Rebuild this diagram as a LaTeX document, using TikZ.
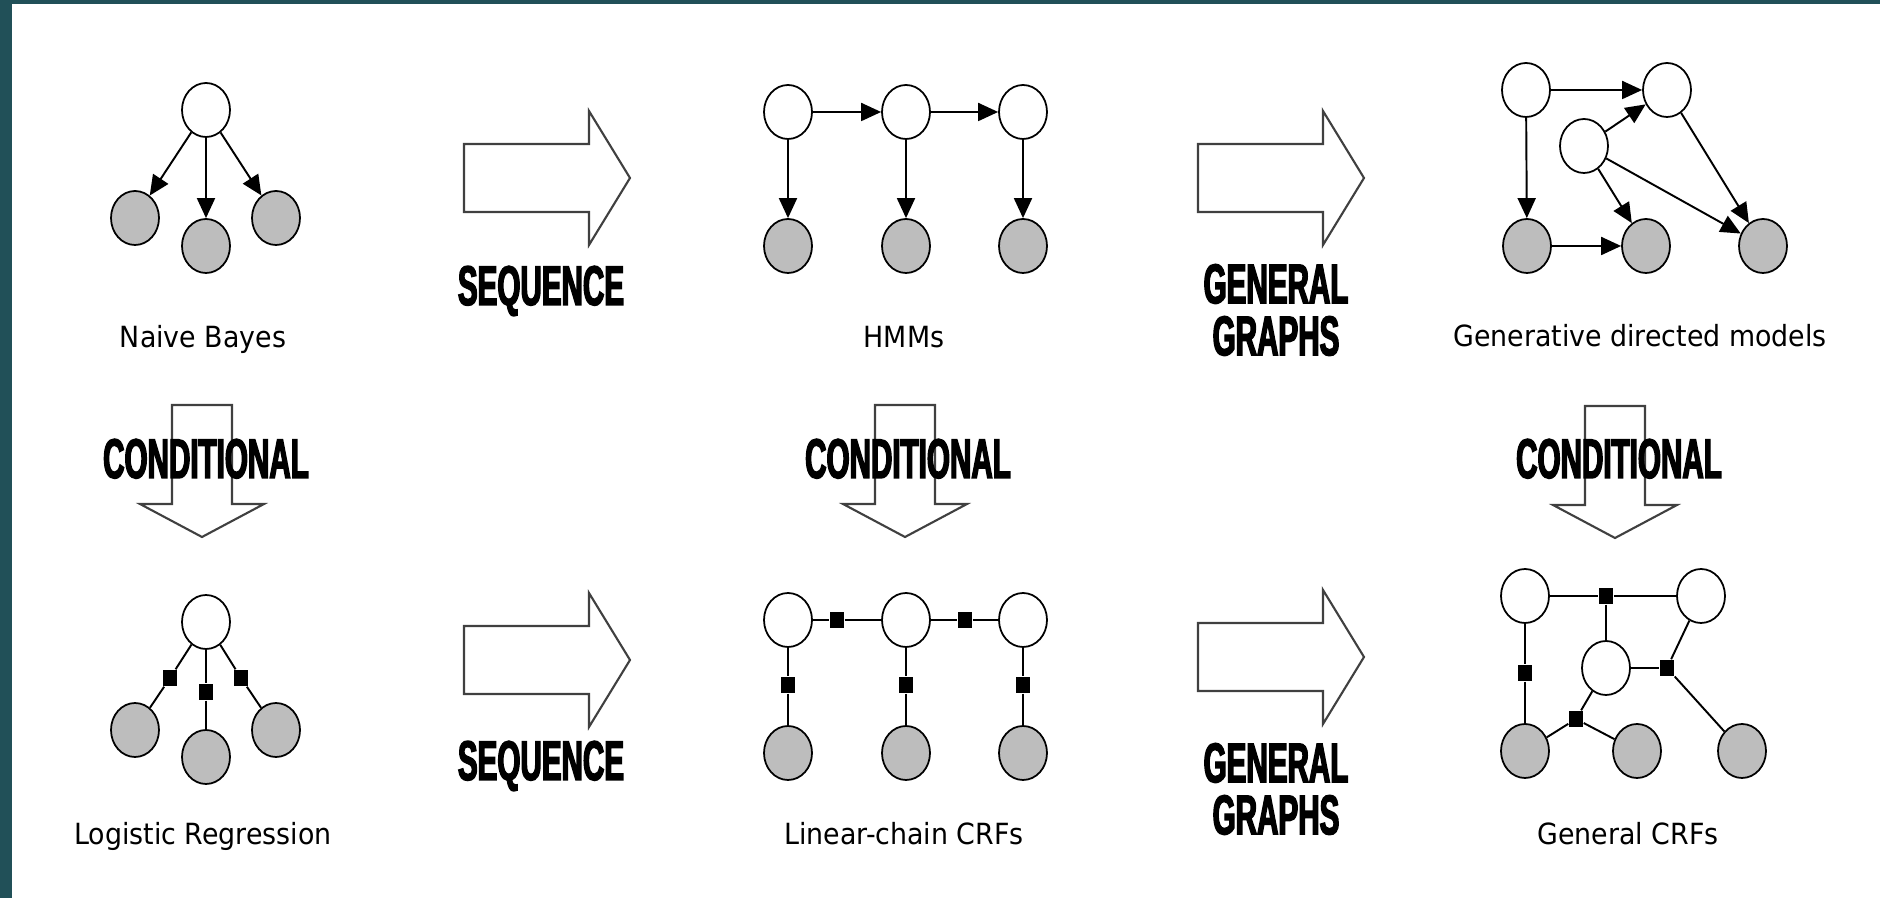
\documentclass[tikz,border=0pt]{standalone}
\usepackage{fontspec}
\usepackage{tikz}
\usetikzlibrary{shapes.geometric,arrows.meta}

\newfontfamily\capfont[FakeStretch=0.92]{DejaVu Sans}
\newfontfamily\bannerfont[FakeStretch=0.53,FakeBold=2.5]{Liberation Sans Bold}

\definecolor{slidebar}{RGB}{33,80,88}
\definecolor{obsgray}{RGB}{189,189,189}

\tikzset{
  hidden/.style={ellipse, draw, line width=0.5pt, fill=white,
    minimum width=4.8mm, minimum height=5.4mm, inner sep=0pt},
  observed/.style={hidden, fill=obsgray},
  factor/.style={rectangle, fill=black, minimum width=1.4mm,
    minimum height=1.6mm, inner sep=0pt},
  dep/.style={line width=0.55pt, -{Triangle[length=2mm,width=1.8mm]}},
  link/.style={line width=0.55pt},
  caption/.style={font=\capfont\fontsize{8.3pt}{10pt}\selectfont, anchor=base},
  banner/.style={font=\bannerfont\fontsize{15.9pt}{14.8pt}\selectfont,
    align=center, inner sep=0pt},
  blockarrow/.style={draw=black!75, line width=0.6pt, line join=miter},
  pics/fatright/.style={code={
    \draw[blockarrow] (0,-34) -- (125,-34) -- (125,-67) -- (166,0)
      -- (125,67) -- (125,34) -- (0,34) -- cycle;
  }},
  pics/fatdown/.style={code={
    \draw[blockarrow] (-30,0) -- (30,0) -- (30,99) -- (62,99) -- (0,132)
      -- (-62,99) -- (-30,99) -- cycle;
  }},
}

\begin{document}
\begin{tikzpicture}[x=0.1mm, y=-0.1mm]
  \useasboundingbox (0,0) rectangle (1880,898);
  \fill[slidebar] (0,0) rectangle (12,898);
  \fill[slidebar] (0,0) rectangle (1880,4);

  % naive bayes
  \node[hidden] (nby) at (206,110) {};
  \node[observed] (nbx1) at (135,218) {};
  \node[observed] (nbx2) at (206,246) {};
  \node[observed] (nbx3) at (276,218) {};
  \draw[dep] (nby) -- (nbx1);
  \draw[dep] (nby) -- (nbx2);
  \draw[dep] (nby) -- (nbx3);
  \node[caption] (nblabel) at (203,348) {Naive Bayes};

  % logistic regression
  \node[hidden] (lry) at (206,622) {};
  \node[observed] (lrx1) at (135,730) {};
  \node[observed] (lrx2) at (206,757) {};
  \node[observed] (lrx3) at (276,730) {};
  \node[factor] (lrf1) at (170,678) {};
  \node[factor] (lrf2) at (206,692) {};
  \node[factor] (lrf3) at (241,678) {};
  \draw[link] (lry) -- (lrf1) -- (lrx1);
  \draw[link] (lry) -- (lrf2) -- (lrx2);
  \draw[link] (lry) -- (lrf3) -- (lrx3);
  \node[caption] (lrlabel) at (203,845) {Logistic Regression};

  % hmm
  \node[hidden] (hy1) at (788,112) {};
  \node[hidden] (hy2) at (906,112) {};
  \node[hidden] (hy3) at (1023,112) {};
  \node[observed] (hx1) at (788,246) {};
  \node[observed] (hx2) at (906,246) {};
  \node[observed] (hx3) at (1023,246) {};
  \draw[dep] (hy1) -- (hy2);
  \draw[dep] (hy2) -- (hy3);
  \draw[dep] (hy1) -- (hx1);
  \draw[dep] (hy2) -- (hx2);
  \draw[dep] (hy3) -- (hx3);
  \node[caption] (hmmlabel) at (904,348) {HMMs};

  % linear-chain crf
  \node[hidden] (ly1) at (788,620) {};
  \node[hidden] (ly2) at (906,620) {};
  \node[hidden] (ly3) at (1023,620) {};
  \node[observed] (lx1) at (788,753) {};
  \node[observed] (lx2) at (906,753) {};
  \node[observed] (lx3) at (1023,753) {};
  \node[factor] (lf12) at (837,620) {};
  \node[factor] (lf23) at (965,620) {};
  \node[factor] (lf1) at (788,685) {};
  \node[factor] (lf2) at (906,685) {};
  \node[factor] (lf3) at (1023,685) {};
  \draw[link] (ly1) -- (lf12) -- (ly2) -- (lf23) -- (ly3);
  \draw[link] (ly1) -- (lf1) -- (lx1);
  \draw[link] (ly2) -- (lf2) -- (lx2);
  \draw[link] (ly3) -- (lf3) -- (lx3);
  \node[caption] (lclabel) at (904,845) {Linear-chain CRFs};

  % generative directed model
  \node[hidden] (ga) at (1526,90) {};
  \node[hidden] (gb) at (1667,90) {};
  \node[hidden] (gc) at (1584,146) {};
  \node[observed] (gx1) at (1527,246) {};
  \node[observed] (gx2) at (1646,246) {};
  \node[observed] (gx3) at (1763,246) {};
  \draw[dep] (ga) -- (gb);
  \draw[dep] (ga) -- (gx1);
  \draw[dep] (gc) -- (gb);
  \draw[dep] (gc) -- (gx2);
  \draw[dep] (gc) -- (gx3);
  \draw[dep] (gb) -- (gx3);
  \draw[dep] (gx1) -- (gx2);
  \node[caption] (gdlabel) at (1640,347) {Generative directed models};

  % general crf
  \node[hidden] (ca) at (1525,596) {};
  \node[hidden] (cb) at (1701,596) {};
  \node[hidden] (cc) at (1606,668) {};
  \node[observed] (cx1) at (1525,751) {};
  \node[observed] (cx2) at (1637,751) {};
  \node[observed] (cx3) at (1742,751) {};
  \node[factor] (cf1) at (1606,596) {};
  \node[factor] (cf2) at (1525,673) {};
  \node[factor] (cf3) at (1667,668) {};
  \node[factor] (cf4) at (1576,719) {};
  \draw[link] (ca) -- (cf1) -- (cb);
  \draw[link] (cf1) -- (cc);
  \draw[link] (ca) -- (cf2) -- (cx1);
  \draw[link] (cb) -- (cf3) -- (cx3);
  \draw[link] (cc) -- (cf3);
  \draw[link] (cc) -- (cf4) -- (cx1);
  \draw[link] (cf4) -- (cx2);
  \node[caption] (gclabel) at (1628,845) {General CRFs};

  % block arrows between the models
  \pic at (464,178) {fatright};
  \pic at (464,660) {fatright};
  \pic at (1198,178) {fatright};
  \pic at (1198,657) {fatright};
  \pic at (202,405) {fatdown};
  \pic at (905,405) {fatdown};
  \pic at (1615,406) {fatdown};

  \node[banner, anchor=base] (seqtop) at (541,305) {SEQUENCE};
  \node[banner, anchor=base] (seqbot) at (541,780) {SEQUENCE};
  \node[banner] (gentop) at (1276,310) {GENERAL\\GRAPHS};
  \node[banner] (genbot) at (1276,789) {GENERAL\\GRAPHS};
  \node[banner, anchor=base] (condl) at (206,478) {CONDITIONAL};
  \node[banner, anchor=base] (condm) at (908,478) {CONDITIONAL};
  \node[banner, anchor=base] (condr) at (1619,478) {CONDITIONAL};
\end{tikzpicture}
\end{document}
